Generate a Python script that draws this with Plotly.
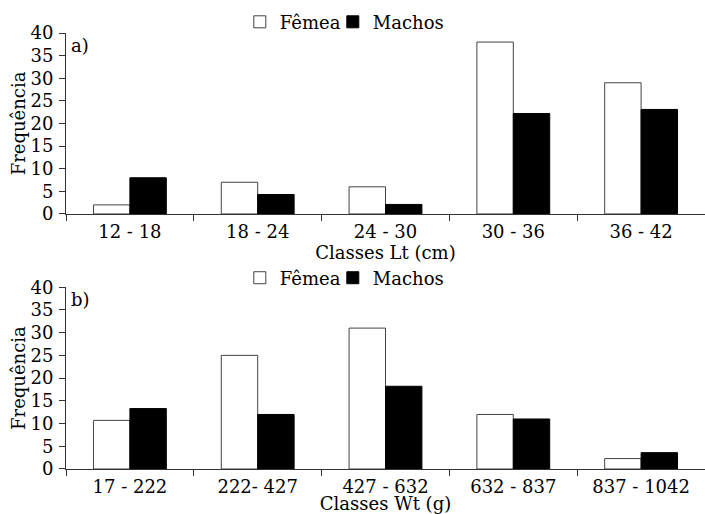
import plotly.graph_objects as go
from plotly.subplots import make_subplots

classes_lt = ["12 - 18", "18 - 24", "24 - 30", "30 - 36", "36 - 42"]
femea_lt = [2, 7, 6, 38, 29]
machos_lt = [8, 4.3, 2.1, 22.2, 23.1]

classes_wt = ["17 - 222", "222- 427", "427 - 632", "632 - 837", "837 - 1042"]
femea_wt = [10.7, 25, 31, 12, 2.3]
machos_wt = [13.3, 12, 18.2, 11, 3.6]

FONT = "DejaVu Serif"
FS = 18

fig = make_subplots(rows=2, cols=1, vertical_spacing=0.17)

for row, cats, fem, mac, leg in [(1, classes_lt, femea_lt, machos_lt, "legend"),
                                 (2, classes_wt, femea_wt, machos_wt, "legend2")]:
    fig.add_trace(go.Bar(x=cats, y=fem, name="Fêmea", legend=leg,
                         marker=dict(color="white", line=dict(color="#444", width=1))), row=row, col=1)
    fig.add_trace(go.Bar(x=cats, y=mac, name="Machos", legend=leg,
                         marker=dict(color="black", line=dict(color="black", width=1))), row=row, col=1)
    # invisible spacer entry so the last legend label is not clipped
    fig.add_trace(go.Scatter(x=[None], y=[None], name=" ", legend=leg, mode="markers",
                             marker=dict(color="rgba(0,0,0,0)", size=1, line=dict(width=0)),
                             hoverinfo="skip", showlegend=True), row=row, col=1)

axis_common = dict(showline=True, linecolor="#333", linewidth=1, ticks="outside",
                   tickcolor="#333", ticklen=6, showgrid=False, zeroline=False, automargin=False,
                   tickfont=dict(family=FONT, size=FS, color="black"))

fig.update_xaxes(**axis_common, tickson="boundaries", ticklabelstandoff=1)
fig.update_yaxes(**axis_common, range=[0, 40], dtick=5, ticklabelstandoff=2,
                 title=dict(text="Frequência", font=dict(family=FONT, size=FS, color="black"), standoff=0))

fig.update_xaxes(title=dict(text="Classes Lt (cm)", font=dict(family=FONT, size=FS, color="black"), standoff=0), row=1, col=1)
fig.update_xaxes(title=dict(text="Classes Wt (g)", font=dict(family=FONT, size=FS, color="black"), standoff=0), row=2, col=1)

legend_common = dict(orientation="h", x=0.272, xanchor="left", yanchor="middle",
                     font=dict(family=FONT, size=FS), itemwidth=30, tracegroupgap=0,
                     entrywidth=48, entrywidthmode="pixels", bgcolor="rgba(0,0,0,0)")

fig.update_layout(
    width=705, height=514,
    margin=dict(l=66, r=0, t=33, b=45, autoexpand=False),
    paper_bgcolor="white", plot_bgcolor="white",
    barmode="group", bargap=0.43, bargroupgap=0,
    font=dict(family=FONT, size=FS, color="black"),
    legend=dict(**legend_common, y=1.025),
    legend2=dict(**legend_common, y=0.438),
    annotations=[
        dict(text="a)", xref="x domain", yref="y domain", x=0.005, y=1.0, xanchor="left", yanchor="top",
             showarrow=False, font=dict(family=FONT, size=FS, color="black")),
        dict(text="b)", xref="x2 domain", yref="y2 domain", x=0.005, y=1.0, xanchor="left", yanchor="top",
             showarrow=False, font=dict(family=FONT, size=FS, color="black")),
    ],
)

fig.update_yaxes(domain=[0.585, 1.0], row=1, col=1)
fig.update_yaxes(domain=[0.0, 0.417], row=2, col=1)

fig.write_html("out.html", config={"displayModeBar": False},
               post_script="document.body.style.margin='0px';")
